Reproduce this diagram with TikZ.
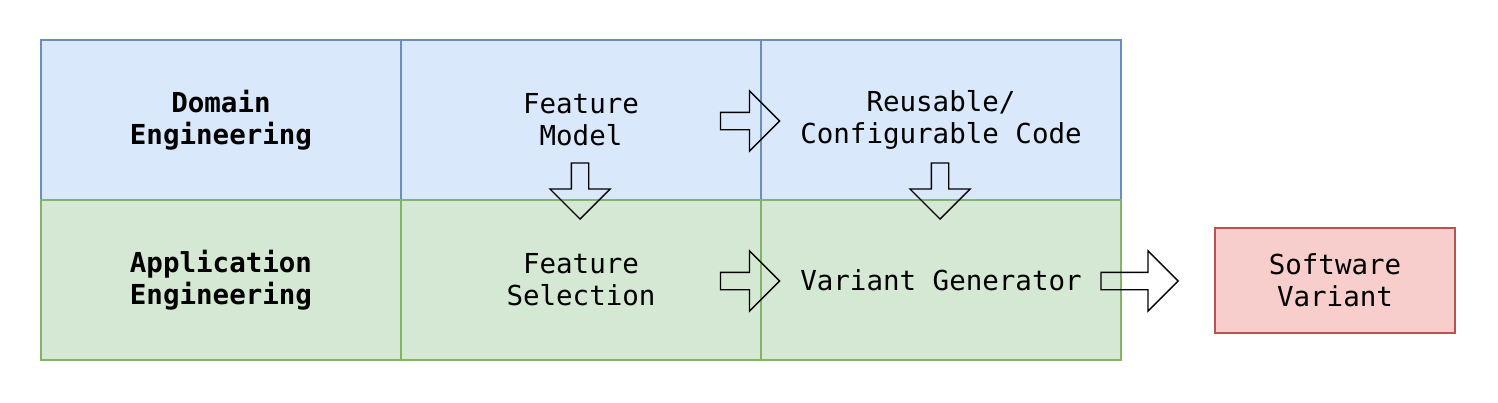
\documentclass[tikz,border=0pt]{standalone}
\usepackage{fontspec}
\setmonofont{DejaVu Sans Mono}
\usepackage{tikz}
\usetikzlibrary{calc, shapes.arrows}

\definecolor{domainfill}{HTML}{DAE8FC}
\definecolor{domainline}{HTML}{6C8EBF}
\definecolor{appfill}{HTML}{D5E8D4}
\definecolor{appline}{HTML}{82B366}
\definecolor{variantfill}{HTML}{F8CECC}
\definecolor{variantline}{HTML}{B85450}

\tikzset{
	cell/.style={draw, line width=1.2pt, minimum width=360, minimum height=160, inner sep=0pt, align=center},
	domaincell/.style={cell, fill=domainfill, draw=domainline},
	appcell/.style={cell, fill=appfill, draw=appline},
	variantbox/.style={draw=variantline, fill=variantfill, line width=1.2pt, minimum width=240, minimum height=105, inner sep=0pt, align=center},
	blockarrow/.style={single arrow, draw, line width=1.3pt, inner sep=8pt, single arrow head extend=21.5pt, minimum height=59pt, anchor=tip},
	downarrow/.style={blockarrow, shape border rotate=270, minimum height=56pt},
}

\begin{document}
\begin{tikzpicture}[x=1pt, y=-1pt, font=\ttfamily\fontsize{27.5}{32}\selectfont]
			\useasboundingbox (0,0) rectangle (1498,402);
			
			% domain engineering row
			\node [domaincell] (de) at (221,120) {\bfseries Domain\\\bfseries Engineering};
			\node [domaincell] (fm) at (581,120) {Feature\\Model};
			\node [domaincell] (rc) at (941,120) {Reusable/\\Configurable Code};
			
			% application engineering row
			\node [appcell] (ae) at (221,280) {\bfseries Application\\\bfseries Engineering};
			\node [appcell] (fs) at (581,280) {Feature\\Selection};
			\node [appcell] (vg) at (941,280) {Variant Generator};
			
			\node [variantbox] (sv) at (1335,280.5) {Software\\Variant};
			
			% block arrows, placed by their tips
			\node [blockarrow] (fm2rc) at (780.5,121) {};
			\node [downarrow] (fm2fs) at (580,220) {};
			\node [downarrow] (rc2vg) at (940,220) {};
			\node [blockarrow] (fs2vg) at (780.5,281) {};
			\node [blockarrow, minimum height=77pt] (vg2sv) at (1179,281) {};
		\end{tikzpicture}
\end{document}
